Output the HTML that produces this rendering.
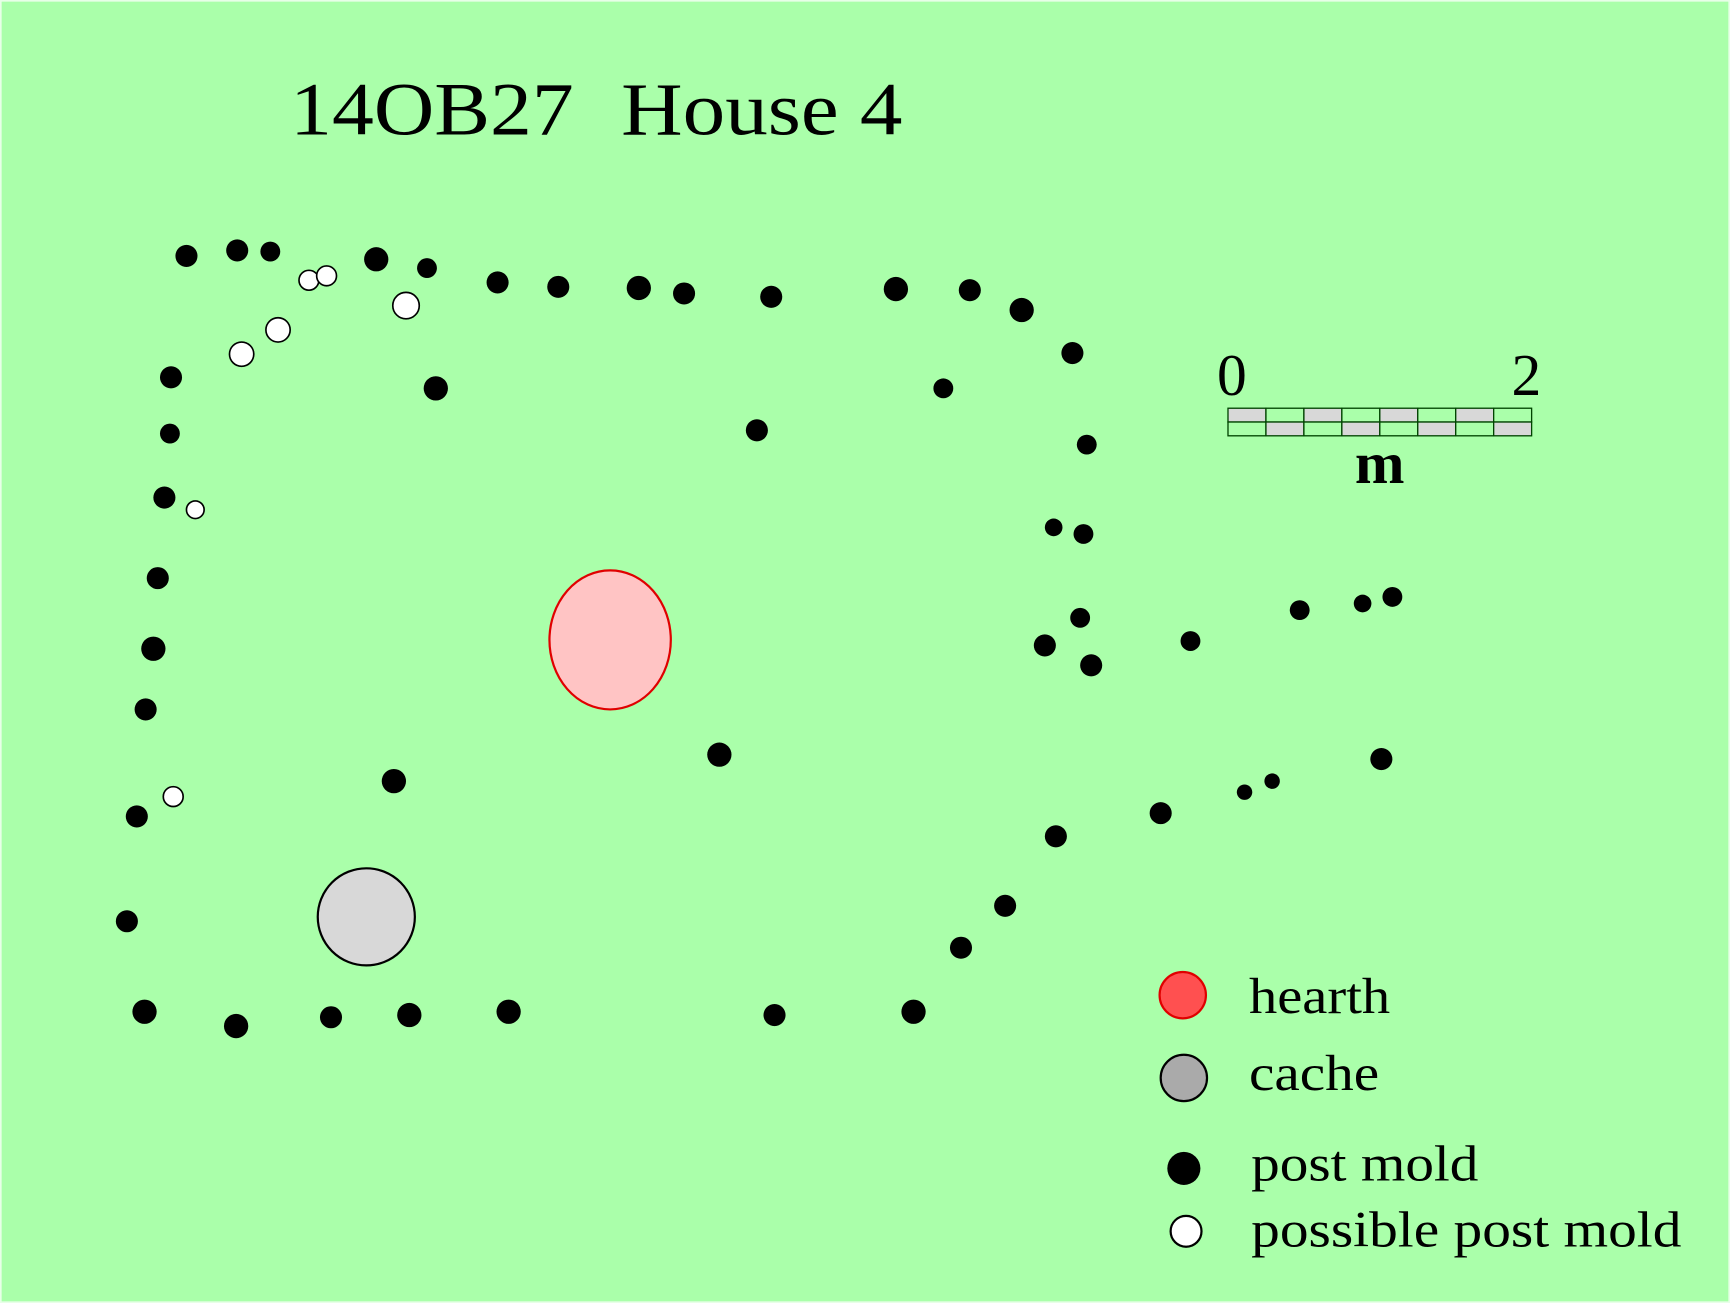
<!DOCTYPE html>
<html><head><meta charset="utf-8"><style>
html,body{margin:0;padding:0;background:#aaffaa;}
svg{display:block;}
text{font-family:"Liberation Serif",serif;fill:#000;}
</style></head><body>
<svg width="1730" height="1303" viewBox="0 0 1568 1181" preserveAspectRatio="none" xmlns="http://www.w3.org/2000/svg">
<rect x="0" y="0" width="1568" height="1181" fill="#aaffaa" stroke="#e8ffe8" stroke-width="3"/>
<text x="263" y="122" font-size="68" textLength="257" lengthAdjust="spacingAndGlyphs">14OB27</text>
<text x="563" y="122" font-size="68" textLength="255" lengthAdjust="spacingAndGlyphs">House 4</text>

<g fill="#000">
<circle cx="169" cy="232" r="10"/><circle cx="215" cy="227" r="10"/><circle cx="245" cy="228" r="9"/>
<circle cx="341" cy="235" r="11"/><circle cx="387" cy="243" r="9"/><circle cx="451" cy="256" r="10"/>
<circle cx="506" cy="260" r="10"/><circle cx="579" cy="261" r="11"/><circle cx="620" cy="266" r="10"/>
<circle cx="699" cy="269" r="10"/><circle cx="812" cy="262" r="11"/><circle cx="879" cy="263" r="10"/>
<circle cx="926" cy="281" r="11"/><circle cx="972" cy="320" r="10"/><circle cx="855" cy="352" r="9"/>
<circle cx="395" cy="352" r="11"/><circle cx="686" cy="390" r="10"/><circle cx="985" cy="403" r="9"/>
<circle cx="155" cy="342" r="10"/><circle cx="154" cy="393" r="9"/><circle cx="149" cy="451" r="10"/>
<circle cx="143" cy="524" r="10"/><circle cx="139" cy="588" r="11"/><circle cx="132" cy="643" r="10"/>
<circle cx="124" cy="740" r="10"/><circle cx="115" cy="835" r="10"/><circle cx="131" cy="917" r="11"/>
<circle cx="214" cy="930" r="11"/><circle cx="300" cy="922" r="10"/><circle cx="371" cy="920" r="11"/>
<circle cx="461" cy="917" r="11"/><circle cx="702" cy="920" r="10"/><circle cx="828" cy="917" r="11"/>
<circle cx="871" cy="859" r="10"/><circle cx="911" cy="821" r="10"/><circle cx="957" cy="758" r="10"/>
<circle cx="1052" cy="737" r="10"/><circle cx="1128" cy="718" r="7"/><circle cx="1153" cy="708" r="7"/>
<circle cx="1252" cy="688" r="10"/><circle cx="652" cy="684" r="11"/><circle cx="357" cy="708" r="11"/>
<circle cx="955" cy="478" r="8"/><circle cx="982" cy="484" r="9"/><circle cx="979" cy="560" r="9"/>
<circle cx="947" cy="585" r="10"/><circle cx="989" cy="603" r="10"/><circle cx="1079" cy="581" r="9"/>
<circle cx="1178" cy="553" r="9"/><circle cx="1235" cy="547" r="8"/><circle cx="1262" cy="541" r="9"/>
</g>
<g fill="#fff" stroke="#000" stroke-width="1.5">
<circle cx="280" cy="254" r="9"/><circle cx="296" cy="250" r="9"/><circle cx="368" cy="277" r="12"/>
<circle cx="252" cy="299" r="11"/><circle cx="219" cy="321" r="11"/><circle cx="177" cy="462" r="8"/>
<circle cx="157" cy="722" r="9"/>
</g>
<ellipse cx="553" cy="580" rx="55" ry="63" fill="#ffc4c4" stroke="#e00000" stroke-width="2"/>
<circle cx="332" cy="831" r="44" fill="#d8d8d8" stroke="#000" stroke-width="2"/>

<g stroke="#004400" stroke-width="1.2">
<rect x="1113" y="370" width="34.4" height="12.5" fill="#d8d8d8"/>
<rect x="1147.4" y="370" width="34.4" height="12.5" fill="#aaffaa"/>
<rect x="1181.8" y="370" width="34.4" height="12.5" fill="#d8d8d8"/>
<rect x="1216.2" y="370" width="34.4" height="12.5" fill="#aaffaa"/>
<rect x="1250.6" y="370" width="34.4" height="12.5" fill="#d8d8d8"/>
<rect x="1285" y="370" width="34.4" height="12.5" fill="#aaffaa"/>
<rect x="1319.4" y="370" width="34.4" height="12.5" fill="#d8d8d8"/>
<rect x="1353.8" y="370" width="34.4" height="12.5" fill="#aaffaa"/>
<rect x="1113" y="382.5" width="34.4" height="12.5" fill="#aaffaa"/>
<rect x="1147.4" y="382.5" width="34.4" height="12.5" fill="#d8d8d8"/>
<rect x="1181.8" y="382.5" width="34.4" height="12.5" fill="#aaffaa"/>
<rect x="1216.2" y="382.5" width="34.4" height="12.5" fill="#d8d8d8"/>
<rect x="1250.6" y="382.5" width="34.4" height="12.5" fill="#aaffaa"/>
<rect x="1285" y="382.5" width="34.4" height="12.5" fill="#d8d8d8"/>
<rect x="1319.4" y="382.5" width="34.4" height="12.5" fill="#aaffaa"/>
<rect x="1353.8" y="382.5" width="34.4" height="12.5" fill="#d8d8d8"/>
</g>
<text x="1103" y="358" font-size="54">0</text>
<text x="1370" y="358" font-size="54">2</text>
<text x="1228" y="438" font-size="54" font-weight="bold">m</text>

<circle cx="1072" cy="902" r="21" fill="#ff5050" stroke="#e00000" stroke-width="2"/>
<text x="1132" y="918" font-size="46" textLength="128" lengthAdjust="spacingAndGlyphs">hearth</text>
<circle cx="1073" cy="977" r="21" fill="#aaaaaa" stroke="#000" stroke-width="2"/>
<text x="1132" y="988" font-size="46" textLength="118" lengthAdjust="spacingAndGlyphs">cache</text>
<circle cx="1073" cy="1059" r="15" fill="#000"/>
<text x="1134" y="1070" font-size="46" textLength="206" lengthAdjust="spacingAndGlyphs">post mold</text>
<circle cx="1075" cy="1116" r="14" fill="#fff" stroke="#000" stroke-width="2"/>
<text x="1134" y="1130" font-size="46" textLength="390" lengthAdjust="spacingAndGlyphs">possible post mold</text>
</svg>
</body></html>
